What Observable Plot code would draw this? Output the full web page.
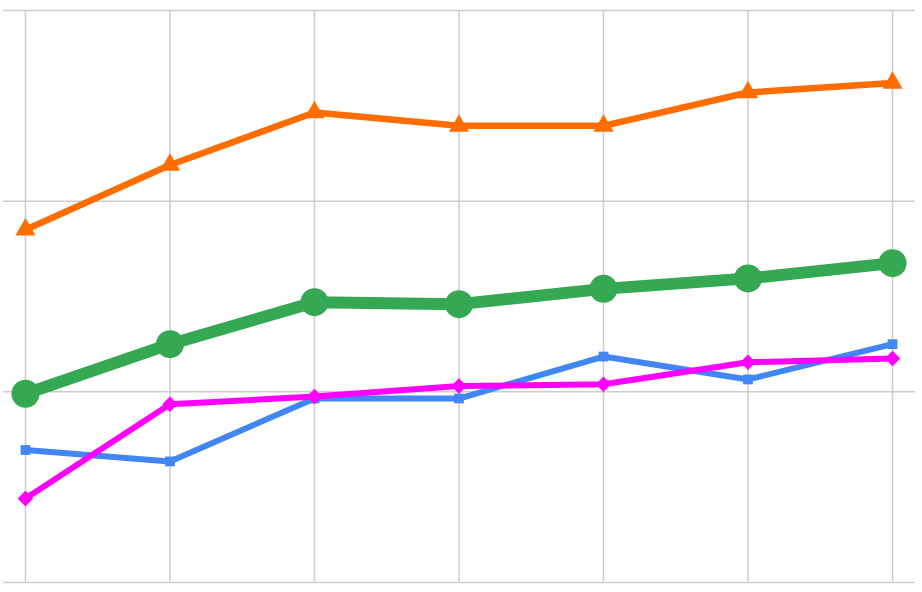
<!DOCTYPE html>
<html>
<head>
<meta charset="utf-8">
<script src="https://cdn.jsdelivr.net/npm/d3@7"></script>
<script src="https://cdn.jsdelivr.net/npm/@observablehq/plot@0.6"></script>
<style>
  html, body { margin: 0; padding: 0; background: #fff; }
  #chart svg { display: block; }
</style>
</head>
<body>
<div id="chart"></div>
<script>
const categories = [0, 1, 2, 3, 4, 5, 6];
const yTicks = [0, 10, 20, 30];
const orangeValues = [18.5, 21.9, 24.65, 23.95, 23.95, 25.7, 26.2];
const greenValues = [9.9, 12.5, 14.7, 14.6, 15.4, 15.95, 16.75];
const blueValues = [6.95, 6.35, 9.65, 9.65, 11.85, 10.65, 12.5];
const magentaValues = [4.4, 9.35, 9.75, 10.3, 10.4, 11.55, 11.75];

const seriesDefs = [
  {name: "blue", values: blueValues, color: "#4285f4", width: 6, symbol: "square", r: 5.5},
  {name: "magenta", values: magentaValues, color: "#ff00ff", width: 6, symbol: "diamond2", r: 7},
  {name: "green", values: greenValues, color: "#34a853", width: 12, symbol: "circle", r: 14},
  {name: "orange", values: orangeValues, color: "#ff6d01", width: 6.5, symbol: "triangle", r: 7.5}
];

const marks = [
  Plot.ruleY(yTicks, {stroke: "#cccccc", strokeWidth: 1.5}),
  Plot.ruleX(categories, {y1: 0, y2: 30, stroke: "#cccccc", strokeWidth: 1.5})
];
for (const s of seriesDefs) {
  const data = categories.map((c, i) => ({x: c, y: s.values[i]}));
  marks.push(Plot.line(data, {x: "x", y: "y", stroke: s.color, strokeWidth: s.width, strokeLinejoin: "round", strokeLinecap: "round"}));
  marks.push(Plot.dot(data, {x: "x", y: "y", fill: s.color, stroke: "none", symbol: s.symbol, r: s.r}));
}

const chart = Plot.plot({
  width: 922,
  height: 592,
  marginLeft: 3,
  marginRight: 7,
  marginTop: 10,
  marginBottom: 10,
  x: {type: "linear", domain: [-0.152, 6.159], axis: null},
  y: {domain: [0, 30], axis: null},
  marks
});
document.getElementById("chart").append(chart);
</script>
</body>
</html>
